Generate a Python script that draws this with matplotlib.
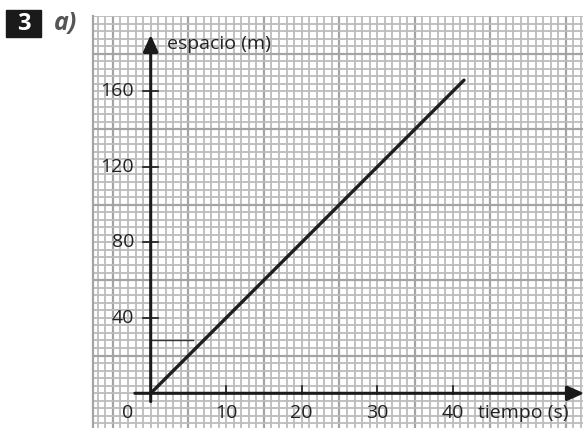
import numpy as np
import matplotlib
matplotlib.use("Agg")
import matplotlib.pyplot as plt
from matplotlib.ticker import FixedLocator

plt.rcParams['font.family'] = ['Open Sans', 'DejaVu Sans']

# datos de la recta espacio-tiempo
tiempo = [0, 41.5]
espacio = [0, 166]
# marca horizontal corta
marca_t = [0, 5.6]
marca_s = [28, 28]

xticks = [10, 20, 30, 40]
yticks = [40, 80, 120, 160]

W, H = 583, 428
fig = plt.figure(figsize=(W / 100, H / 100), dpi=100)
ax = fig.add_axes([93 / W, 0, 1 - 93 / W, (428 - 16) / H])

ax.set_xlim(-7.64, 57.26)
ax.set_ylim(-18.4, 200)

# papel milimetrado: 1 cuadro = 1 s en x, 4 m en y
ax.xaxis.set_minor_locator(FixedLocator(np.arange(-7, 58, 1)))
ax.xaxis.set_major_locator(FixedLocator(np.arange(-5, 58, 10)))
ax.yaxis.set_minor_locator(FixedLocator(np.arange(-16, 201, 4)))
ax.yaxis.set_major_locator(FixedLocator(np.arange(-20, 201, 40)))
ax.grid(which='minor', color='#bcbcbc', lw=1.3)
ax.grid(which='major', color='#a4a4a4', lw=1.6)
ax.tick_params(which='both', length=0, labelbottom=False, labelleft=False)
for sp in ['top', 'right', 'bottom']:
    ax.spines[sp].set_visible(False)
ax.spines['left'].set_color('#a4a4a4')
ax.spines['left'].set_linewidth(1.6)
ax.set_axisbelow(True)

# ejes con flecha
ax.annotate('', xy=(57.4, 0), xytext=(-2.1, 0),
            arrowprops=dict(arrowstyle='-|>,head_length=1.0,head_width=0.45',
                            color='#1a1a1a', lw=2.2, shrinkA=0, shrinkB=0),
            annotation_clip=False)
ax.annotate('', xy=(0, 190), xytext=(0, -4.4),
            arrowprops=dict(arrowstyle='-|>,head_length=1.0,head_width=0.45',
                            color='#1a1a1a', lw=2.2, shrinkA=0, shrinkB=0),
            annotation_clip=False)

for xt in xticks:
    ax.plot([xt, xt], [-0.6, 3.6], color='#1a1a1a', lw=1.2)
    ax.text(xt, -10.5, str(xt), ha='center', va='center', fontsize=14, color='#222222')
for yt in yticks:
    ax.plot([-1.0, 1.0], [yt, yt], color='#1a1a1a', lw=1.2)
    ax.text(-2.2, yt, str(yt), ha='right', va='center', fontsize=14, color='#222222')
ax.text(-3.1, -10.5, '0', ha='center', va='center', fontsize=14, color='#222222')

ax.text(2.1, 185, 'espacio (m)', ha='left', va='center', fontsize=14, color='#222222')
ax.text(43.3, -10.5, 'tiempo (s)', ha='left', va='center', fontsize=14, color='#222222')

ax.plot(tiempo, espacio, color='#1e1e1e', lw=2.4, solid_capstyle='round')
ax.plot(marca_t, marca_s, color='#333333', lw=1.0)

# numero del ejercicio
fig.patches.append(plt.Rectangle((6 / W, 1 - 37 / H), 35 / W, 27 / H,
                                 transform=fig.transFigure, color='#1a1a1a'))
fig.text(23.5 / W, 1 - 23.5 / H, '3', ha='center', va='center', color='white',
         fontsize=17, fontweight='bold')
fig.text(54 / W, 1 - 24 / H, 'a)', ha='left', va='center', color='#555555',
         fontsize=18, fontweight='bold', fontstyle='italic')

fig.savefig('out.png', dpi=100)
